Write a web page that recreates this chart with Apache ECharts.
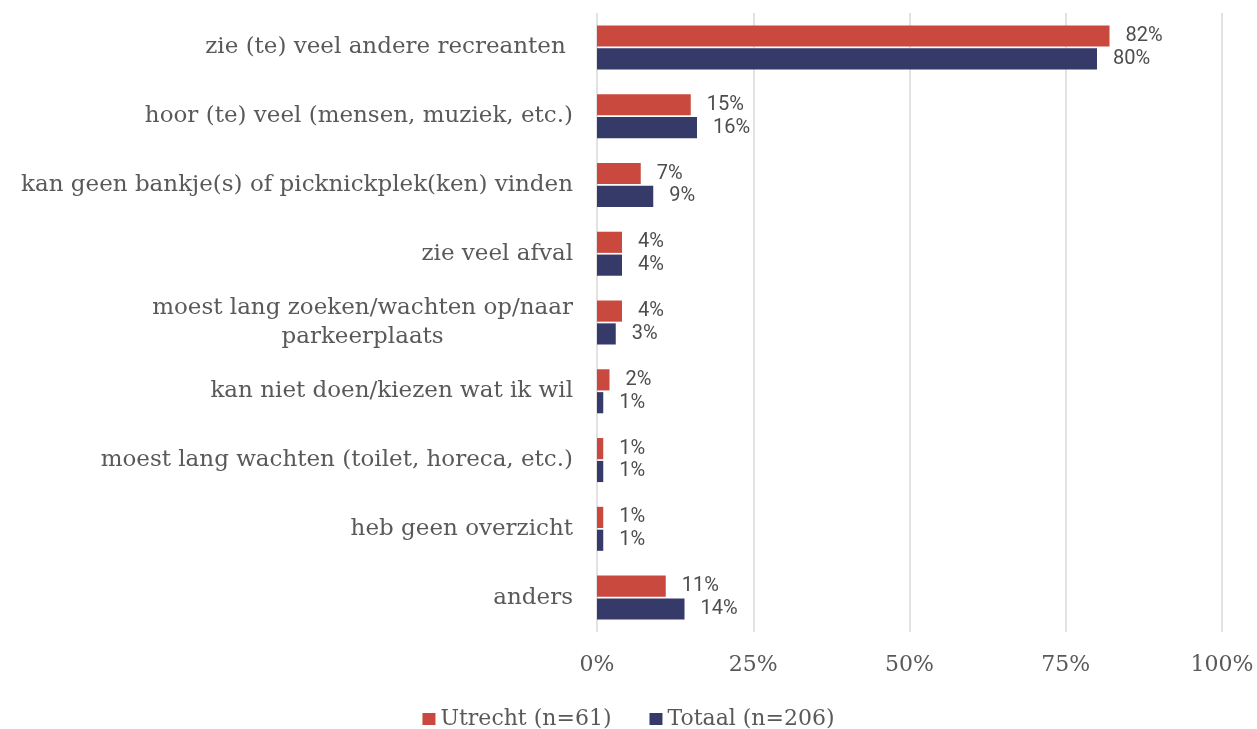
<!DOCTYPE html>
<html>
<head>
<meta charset="utf-8">
<script src="https://cdn.jsdelivr.net/npm/echarts@6/dist/echarts.min.js"></script>
<style>
  html, body { margin: 0; padding: 0; background: #fff; }
  #chart { width: 1257px; height: 729px; }
</style>
</head>
<body>
<div id="chart"></div>
<script>
// categorieen (van boven naar beneden)
const categories = [
  'zie (te) veel andere recreanten ',
  'hoor (te) veel (mensen, muziek, etc.)',
  'kan geen bankje(s) of picknickplek(ken) vinden',
  'zie veel afval',
  'moest lang zoeken/wachten op/naar\nparkeerplaats',
  'kan niet doen/kiezen wat ik wil',
  'moest lang wachten (toilet, horeca, etc.)',
  'heb geen overzicht',
  'anders'
];
const utrecht = [82, 15, 7, 4, 4, 2, 1, 1, 11];
const totaal = [80, 16, 9, 4, 3, 1, 1, 1, 14];
const seriesNames = ['Utrecht (n=61)', 'Totaal (n=206)'];

const serif = '"DejaVu Serif", "Liberation Serif", serif';
const chart = echarts.init(document.getElementById('chart'));

const option = {
  animation: false,
  color: ['#c9493f', '#363a68'],
  grid: { left: 597, right: 35, top: 13, bottom: 97 },
  legend: {
    data: seriesNames,
    top: 703,
    left: 'center',
    itemWidth: 13,
    itemHeight: 12,
    itemGap: 38,
    icon: 'rect',
    textStyle: { fontFamily: serif, fontSize: 22, color: '#595959' }
  },
  xAxis: {
    type: 'value',
    min: 0,
    max: 100,
    interval: 25,
    axisLine: { show: false },
    axisTick: { show: false },
    splitLine: { lineStyle: { color: '#d9d9d9', width: 1.5 } },
    axisLabel: {
      margin: 22,
      fontFamily: serif,
      fontSize: 22,
      color: '#595959',
      formatter: v => v + '%'
    }
  },
  yAxis: {
    type: 'category',
    data: categories,
    inverse: true,
    axisLine: { show: false },
    axisTick: { show: false },
    axisLabel: {
      margin: 24,
      fontFamily: serif,
      fontSize: 23,
      color: '#595959',
      lineHeight: 29,
      formatter: v => v.split('\n').map(s => '{c|' + s + '}').join('\n'),
      rich: { c: { align: 'center', fontFamily: serif, fontSize: 23, color: '#595959', lineHeight: 29 } }
    }
  },
  series: [
    { name: seriesNames[0], data: utrecht },
    { name: seriesNames[1], data: totaal }
  ].map(s => ({
    type: 'bar',
    name: s.name,
    data: s.data,
    barGap: '8%',
    barCategoryGap: '36%',
    label: {
      show: true,
      position: 'right',
      distance: 16,
      fontFamily: 'Roboto, sans-serif',
      fontSize: 20,
      color: '#4d4d4d',
      formatter: p => p.value + '%'
    }
  }))
};
chart.setOption(option);
</script>
</body>
</html>
